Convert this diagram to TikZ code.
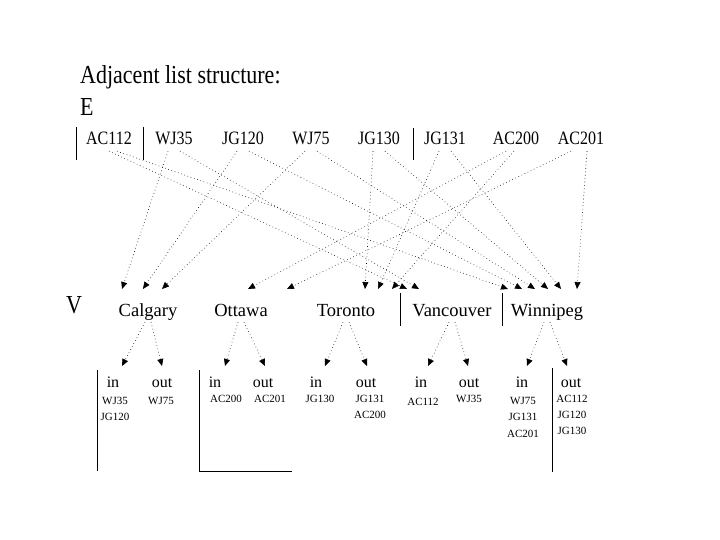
\documentclass[tikz,border=0pt]{standalone}
\usepackage{fontspec}
\usepackage{graphicx}
\setmainfont{Liberation Serif}
\usetikzlibrary{arrows.meta}
\newcommand\vstretch[1]{\scalebox{1}[1.18]{#1}}
\tikzset{
 ttl/.style={font=\fontsize{22}{26}\selectfont, inner sep=0pt, anchor=base west},
 elab/.style={font=\fontsize{16}{19}\selectfont, anchor=base, inner xsep=1pt, inner ysep=6pt, text height=11pt, text depth=0pt},
 vlab/.style={font=\fontsize{18.5}{22}\selectfont, anchor=base, inner sep=2pt, text height=13pt, text depth=4pt},
 io/.style={font=\fontsize{16}{19}\selectfont, anchor=base, inner sep=1pt},
 item/.style={font=\fontsize{11}{13}\selectfont, anchor=base, inner sep=1pt},
 dotarrow/.style={line width=0.6pt, dash pattern=on 0.6pt off 2.8pt, -{Triangle[length=7pt,width=6pt]}},
 bar/.style={line width=0.8pt}
}
\begin{document}
\begin{tikzpicture}[x=1pt,y=-1pt]
\fill[white] (0,0) rectangle (720,540);
\useasboundingbox (0,0) rectangle (720,540);
% titles
\node[ttl] (title) at (80,84) {\vstretch{Adjacent list structure:}};
\node[ttl] (E) at (80,116) {\vstretch{E}};
\node[ttl] (V) at (66,313) {\vstretch{V}};
% edge labels
\node[elab] (e1) at (109,145) {\vstretch{AC112}};
\node[elab] (e2) at (174,145) {\vstretch{WJ35}};
\node[elab] (e3) at (243,145) {\vstretch{JG120}};
\node[elab] (e4) at (311,145) {\vstretch{WJ75}};
\node[elab] (e5) at (379,145) {\vstretch{JG130}};
\node[elab] (e6) at (445,145) {\vstretch{JG131}};
\node[elab] (e7) at (516,145) {\vstretch{AC200}};
\node[elab] (e8) at (581,145) {\vstretch{AC201}};
\draw[bar] (76,127) -- (76,160);
\draw[bar] (143,127) -- (143,160);
\draw[bar] (413,128) -- (413,160);
% vertices
\node[vlab] (cal) at (148,316) {Calgary};
\node[vlab] (ott) at (241,316) {Ottawa};
\node[vlab] (tor) at (346,316) {Toronto};
\node[vlab] (van) at (452,316) {Vancouver};
\node[vlab] (win) at (547,316) {Winnipeg};
\draw[bar] (400,293) -- (400,326);
\draw[bar] (502,293) -- (502,326);
% top arrow tips
\coordinate (tc1) at (122,289);
\coordinate (tc2) at (143,289);
\coordinate (tc3) at (162,289);
\coordinate (to1) at (248,289);
\coordinate (to2) at (287,289);
\coordinate (tt1) at (365,289);
\coordinate (tt2) at (378,289);
\coordinate (tt3) at (392,289);
\coordinate (tv1) at (407,289);
\coordinate (tv2) at (419,289);
\coordinate (tw1) at (508,289);
\coordinate (tw2) at (522,289);
\coordinate (tw3) at (535,289);
\coordinate (tw4) at (548,289);
\coordinate (tw5) at (561,289);
\coordinate (tw6) at (577,289);
% E -> V
\draw[dotarrow] (e1.south) -- (tv1);
\draw[dotarrow] ([xshift=8pt]e1.south) -- (tw1);
\draw[dotarrow] ([xshift=-6pt]e2.south) -- (tc1);
\draw[dotarrow] ([xshift=6pt]e2.south) -- (tv2);
\draw[dotarrow] ([xshift=-6pt]e3.south) -- (tc2);
\draw[dotarrow] ([xshift=6pt]e3.south) -- (tw2);
\draw[dotarrow] ([xshift=-6pt]e4.south) -- (tc3);
\draw[dotarrow] ([xshift=6pt]e4.south) -- (tw3);
\draw[dotarrow] ([xshift=-6pt]e5.south) -- (tt1);
\draw[dotarrow] ([xshift=6pt]e5.south) -- (tw4);
\draw[dotarrow] ([xshift=-6pt]e6.south) -- (tt2);
\draw[dotarrow] ([xshift=6pt]e6.south) -- (tw5);
\draw[dotarrow] ([xshift=-10pt]e7.south) -- (to1);
\draw[dotarrow] ([xshift=-2pt]e7.south) -- (tt3);
\draw[dotarrow] ([xshift=-10pt]e8.south) -- (to2);
\draw[dotarrow] ([xshift=6pt]e8.south) -- (tw6);
% in/out labels
\node[io] (cin) at (113,387) {in};
\node[io] (cout) at (162,387) {out};
\node[io] (oin) at (215,387) {in};
\node[io] (oout) at (263,387) {out};
\node[io] (tin) at (316,387) {in};
\node[io] (tout) at (366,387) {out};
\node[io] (vin) at (421,387) {in};
\node[io] (vout) at (469,387) {out};
\node[io] (wi) at (522,387) {in};
\node[io] (wout) at (571,387) {out};
% lower tips
\coordinate (bc1) at (122,366);
\coordinate (bc2) at (162,366);
\coordinate (bo1) at (225,366);
\coordinate (bo2) at (265,366);
\coordinate (bt1) at (325,366);
\coordinate (bt2) at (367,366);
\coordinate (bv1) at (428,366);
\coordinate (bv2) at (468,366);
\coordinate (bw1) at (527,366);
\coordinate (bw2) at (567,366);
\draw[dotarrow] ([xshift=-3pt]cal.south) -- (bc1);
\draw[dotarrow] ([xshift=3pt]cal.south) -- (bc2);
\draw[dotarrow] ([xshift=-3pt]ott.south) -- (bo1);
\draw[dotarrow] ([xshift=3pt]ott.south) -- (bo2);
\draw[dotarrow] ([xshift=-3pt]tor.south) -- (bt1);
\draw[dotarrow] ([xshift=3pt]tor.south) -- (bt2);
\draw[dotarrow] ([xshift=-3pt]van.south) -- (bv1);
\draw[dotarrow] ([xshift=3pt]van.south) -- (bv2);
\draw[dotarrow] ([xshift=-3pt]win.south) -- (bw1);
\draw[dotarrow] ([xshift=3pt]win.south) -- (bw2);
% lists
\node[item] (ci1) at (115,404) {WJ35};
\node[item] (ci2) at (115,420) {JG120};
\node[item] (co1) at (161,404) {WJ75};
\node[item] (oi1) at (226,402) {AC200};
\node[item] (oo1) at (270,402) {AC201};
\node[item] (ti1) at (320,402) {JG130};
\node[item] (to1n) at (370,402) {JG131};
\node[item] (to2n) at (370,418) {AC200};
\node[item] (vi1) at (423,405) {AC112};
\node[item] (vo1) at (469,402) {WJ35};
\node[item] (wi1) at (523,404) {WJ75};
\node[item] (wi2) at (523,420) {JG131};
\node[item] (wi3) at (523,437) {AC201};
\node[item] (wo1) at (572,402) {AC112};
\node[item] (wo2) at (572,418) {JG120};
\node[item] (wo3) at (572,434) {JG130};
% list lines
\draw[bar] (97,370) -- (97,471);
\draw[bar] (199,370) -- (199,471) -- (292,471);
\draw[bar] (552,368) -- (552,472);
\end{tikzpicture}
\end{document}
